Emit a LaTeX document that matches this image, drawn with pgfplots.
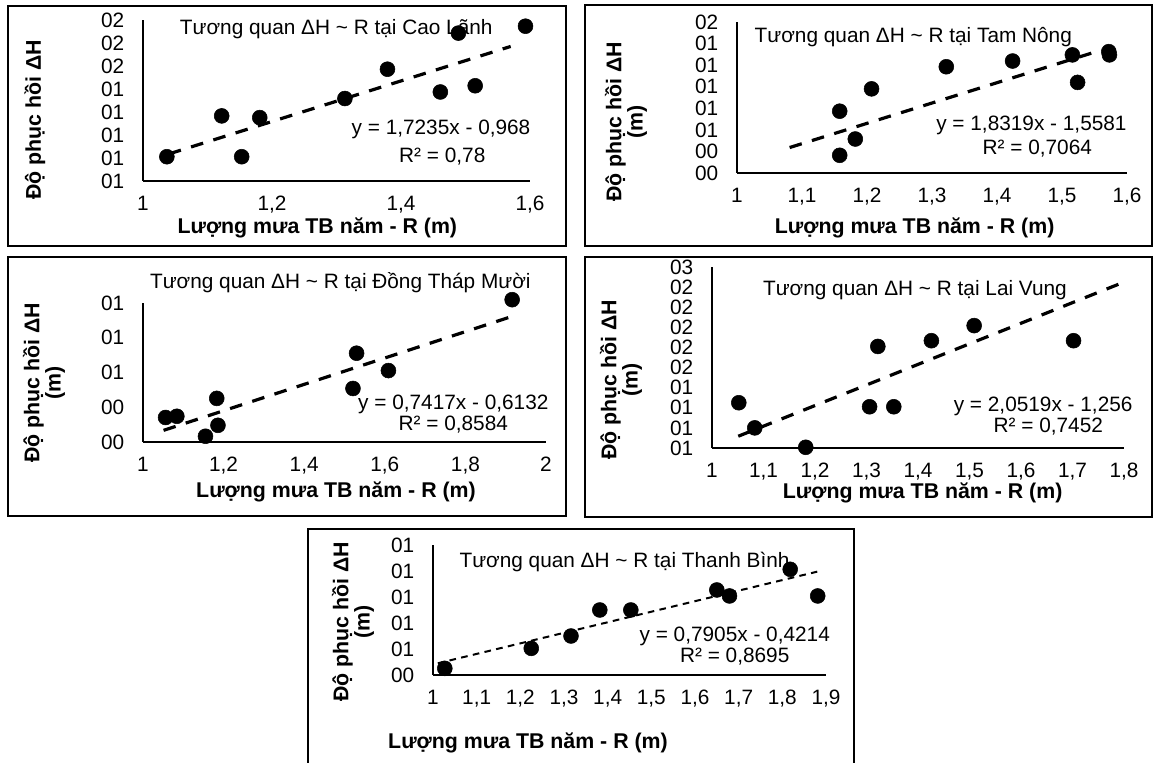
\documentclass[border=0pt]{standalone}
\usepackage{fontspec}
\setmainfont{Liberation Sans}
\usepackage{pgfplots}
\pgfplotsset{compat=1.18}

% 1 px of the reference = 0.75pt; y measured from the bottom
\pgfplotsset{
  panel/.style={
    scale only axis, clip=false,
    axis x line*=bottom, axis y line*=left,
    axis line style={line width=1.3pt,-},
    major tick length=0pt, tick style={draw=none},
    tick label style={font=\fontsize{15.6}{16}\selectfont},
    yticklabel style={xshift=-10.5pt},
    xticklabel style={yshift=-8pt},
  },
  dots/.style={only marks, mark=*, mark size=5.6pt, black},
  trend/.style={black, line width=2.4pt, dash pattern=on 9.5pt off 8pt},
}
\tikzset{
  txt/.style={font=\fontsize{15.6}{16}\selectfont},
  ttl/.style={font=\fontsize{16}{14}\selectfont\bfseries, align=center},
  frame/.style={line width=1.5pt},
}

\begin{document}
\begin{tikzpicture}
\path[use as bounding box] (0,0) rectangle (867.75pt,572.25pt);

% frames
\draw[frame] (6pt,567.75pt) rectangle (424.5pt,387.75pt);
\draw[frame] (438.75pt,568.5pt) rectangle (864pt,387.75pt);
\draw[frame] (6pt,379.5pt) rectangle (424.5pt,185.25pt);
\draw[frame] (438.75pt,379.5pt) rectangle (864pt,184.5pt);
\draw[frame] (231pt,175.5pt) rectangle (640.5pt,-20pt);

% Cao Lanh
\begin{axis}[panel, at={(107.25pt,557.25pt)}, anchor=north west, width=290.25pt, height=120.75pt,
  xmin=1, xmax=1.6, ymin=0.6, ymax=2.0,
  xtick={1,1.2,1.4,1.6}, xticklabels={1,{1,2},{1,4},{1,6}},
  ytick={0.6,0.8,1.0,1.2,1.4,1.6,1.8,2.0}, yticklabels={01,01,01,01,01,02,02,02}]
\addplot[trend] coordinates {(1.04,0.835) (1.57,1.77)};
\node[txt, anchor=west] at (axis cs:1.05,1.92) {Tương quan ΔH \textasciitilde{} R tại Cao Lãnh};
\node[txt] at (axis cs:1.462,1.05) {y = 1,7235x - 0,968};
\node[txt] at (axis cs:1.464,0.81) {R² = 0,78};
\addplot[dots] coordinates {(1.037,0.811) (1.122,1.166) (1.153,0.811) (1.181,1.151) (1.313,1.317)
  (1.379,1.572) (1.461,1.374) (1.489,1.886) (1.515,1.428) (1.593,1.946)};
\end{axis}
\node[ttl] at (238pt,401.25pt) {Lượng mưa TB năm - R (m)};
\node[ttl, rotate=90] at (26.25pt,482.25pt) {Độ phục hồi ΔH};

% Tam Nong
\begin{axis}[panel, at={(552.75pt,555.75pt)}, anchor=north west, width=292.5pt, height=113.25pt,
  xmin=1, xmax=1.6, ymin=0.2, ymax=1.6,
  xtick={1,1.1,1.2,1.3,1.4,1.5,1.6}, xticklabels={1,{1,1},{1,2},{1,3},{1,4},{1,5},{1,6}},
  ytick={0.2,0.4,0.6,0.8,1.0,1.2,1.4,1.6}, yticklabels={00,00,01,01,01,01,01,02}]
\addplot[trend] coordinates {(1.081,0.436) (1.557,1.333)};
\node[txt, anchor=west] at (axis cs:1.02,1.458) {Tương quan ΔH \textasciitilde{} R tại Tam Nông};
\node[txt] at (axis cs:1.453,0.64) {y = 1,8319x - 1,5581};
\node[txt] at (axis cs:1.462,0.43) {R² = 0,7064};
\addplot[dots] coordinates {(1.158,0.364) (1.158,0.773) (1.182,0.515) (1.207,0.980) (1.322,1.185)
  (1.424,1.238) (1.516,1.295) (1.524,1.040) (1.573,1.295) (1.572,1.325)};
\end{axis}
\node[ttl] at (686pt,401.25pt) {Lượng mưa TB năm - R (m)};
\node[ttl, rotate=90] at (469.5pt,480.75pt) {Độ phục hồi ΔH\\(m)};

% Dong Thap Muoi
\begin{axis}[panel, at={(107.25pt,345pt)}, anchor=north west, width=302.25pt, height=104.25pt,
  xmin=1, xmax=2, ymin=0.1, ymax=0.9,
  xtick={1,1.2,1.4,1.6,1.8,2}, xticklabels={1,{1,2},{1,4},{1,6},{1,8},2},
  ytick={0.1,0.3,0.5,0.7,0.9}, yticklabels={00,00,01,01,01}]
\addplot[trend] coordinates {(1.051,0.167) (1.916,0.823)};
\node[txt] at (axis cs:1.77,0.316) {y = 0,7417x - 0,6132};
\node[txt] at (axis cs:1.77,0.203) {R² = 0,8584};
\addplot[dots] coordinates {(1.056,0.241) (1.084,0.248) (1.155,0.133) (1.183,0.351) (1.186,0.196)
  (1.521,0.408) (1.530,0.611) (1.609,0.511) (1.916,0.919)};
\end{axis}
\node[txt, anchor=west] at (109pt,360pt) {Tương quan ΔH \textasciitilde{} R tại Đồng Tháp Mười};
\node[ttl] at (252pt,203.5pt) {Lượng mưa TB năm - R (m)};
\node[ttl, rotate=90] at (33pt,285pt) {Độ phục hồi ΔH\\(m)};

% Lai Vung
\begin{axis}[panel, at={(534pt,372pt)}, anchor=north west, width=309pt, height=135.75pt,
  xmin=1, xmax=1.8, ymin=0.8, ymax=2.6,
  xtick={1,1.1,1.2,1.3,1.4,1.5,1.6,1.7,1.8},
  xticklabels={1,{1,1},{1,2},{1,3},{1,4},{1,5},{1,6},{1,7},{1,8}},
  ytick={0.8,1.0,1.2,1.4,1.6,1.8,2.0,2.2,2.4,2.6}, yticklabels={01,01,01,01,02,02,02,02,02,03}]
\addplot[trend] coordinates {(1.051,0.917) (1.8,2.450)};
\node[txt, anchor=west] at (axis cs:1.09,2.367) {Tương quan ΔH \textasciitilde{} R tại Lai Vung};
\node[txt] at (axis cs:1.643,1.217) {y = 2,0519x - 1,256};
\node[txt] at (axis cs:1.653,1.012) {R² = 0,7452};
\addplot[dots] coordinates {(1.052,1.250) (1.083,1.000) (1.182,0.807) (1.306,1.210) (1.322,1.810)
  (1.353,1.210) (1.426,1.867) (1.509,2.017) (1.702,1.867)};
\end{axis}
\node[ttl] at (692pt,202.5pt) {Lượng mưa TB năm - R (m)};
\node[ttl, rotate=90] at (465.75pt,287.25pt) {Độ phục hồi ΔH\\(m)};

% Thanh Binh
\begin{axis}[panel, at={(324.75pt,163.5pt)}, anchor=north west, width=294.75pt, height=97.5pt,
  xmin=1, xmax=1.9, ymin=0.3, ymax=1.3,
  xtick={1,1.1,1.2,1.3,1.4,1.5,1.6,1.7,1.8,1.9},
  xticklabels={1,{1,1},{1,2},{1,3},{1,4},{1,5},{1,6},{1,7},{1,8},{1,9}},
  ytick={0.3,0.5,0.7,0.9,1.1,1.3}, yticklabels={00,01,01,01,01,01}]
\addplot[black, line width=1.5pt, dash pattern=on 5pt off 4pt] coordinates {(1.011,0.390) (1.880,1.095)};
\node[txt, anchor=west] at (axis cs:1.05,1.172) {Tương quan ΔH \textasciitilde{} R tại Thanh Bình};
\node[txt] at (axis cs:1.691,0.60) {y = 0,7905x - 0,4214};
\node[txt] at (axis cs:1.691,0.44) {R² = 0,8695};
\addplot[dots] coordinates {(1.027,0.351) (1.225,0.505) (1.316,0.600) (1.382,0.800) (1.453,0.800)
  (1.650,0.954) (1.679,0.908) (1.818,1.113) (1.881,0.908)};
\end{axis}
\node[ttl] at (396pt,15pt) {Lượng mưa TB năm - R (m)};
\node[ttl, rotate=90] at (264.75pt,105.75pt) {Độ phục hồi ΔH\\(m)};
\end{tikzpicture}
\end{document}
